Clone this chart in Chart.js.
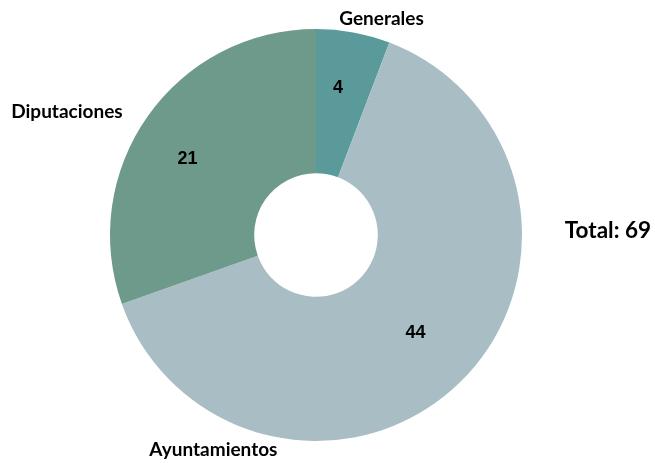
<!DOCTYPE html>
<html><head><meta charset="utf-8">
<script src="https://cdn.jsdelivr.net/npm/chart.js@4/dist/chart.umd.min.js"></script>
<style>html,body{margin:0;padding:0;background:#fff}#wrap{width:655px;height:463px}</style>
</head><body><div id="wrap"><canvas id="c" width="655" height="463"></canvas></div>
<script>
const categories = ["Generales", "Ayuntamientos", "Diputaciones"];
const values = [4, 44, 21];
const colors = ["#5a9a9b", "#a9bdc4", "#6e9a8b"];
const totalLabel = "Total: " + values.reduce((a, b) => a + b, 0);

// category label placement: offset relative to chart centre in units of outer radius
const catLabelPos = [
  { dx: 0.318, dy: -1.051 },
  { dx: -0.498, dy: 1.044 },
  { dx: -1.209, dy: -0.6 }
];
// value label placement: radius fraction and angular tweak (degrees)
const valueRadius = [0.728, 0.675, 0.726];
const valueAngleAdj = [-2, -1.4, -4.4];

const labelPlugin = {
  id: "labels",
  afterDraw(chart) {
    const ctx = chart.ctx;
    const meta = chart.getDatasetMeta(0);
    const arc0 = meta.data[0];
    const cx = arc0.x, cy = arc0.y, R = arc0.outerRadius;
    ctx.save();
    ctx.fillStyle = "#000";
    ctx.textAlign = "center";
    ctx.textBaseline = "middle";
    ctx.font = "bold 18px 'Liberation Sans', Arial, sans-serif";
    meta.data.forEach((arc, i) => {
      const mid = (arc.startAngle + arc.endAngle) / 2 + valueAngleAdj[i] * Math.PI / 180;
      const r = R * valueRadius[i];
      ctx.fillText(String(values[i]), cx + r * Math.cos(mid), cy + r * Math.sin(mid) + 1);
    });
    ctx.font = "bold 19px Lato, 'Open Sans', sans-serif";
    categories.forEach((c, i) => {
      ctx.fillText(c, cx + catLabelPos[i].dx * R, cy + catLabelPos[i].dy * R);
    });
    ctx.font = "bold 22.5px Lato, 'Open Sans', sans-serif";
    ctx.fillText(totalLabel, cx + 1.417 * R, cy - 0.019 * R);
    ctx.restore();
  }
};

new Chart(document.getElementById("c"), {
  type: "doughnut",
  data: {
    labels: categories,
    datasets: [{ data: values, backgroundColor: colors, borderWidth: 0 }]
  },
  options: {
    responsive: false,
    animation: false,
    cutout: "30%",
    layout: { padding: { left: 110, right: 133, top: 29, bottom: 22 } },
    plugins: { legend: { display: false }, tooltip: { enabled: false } }
  },
  plugins: [labelPlugin]
});
</script></body></html>
